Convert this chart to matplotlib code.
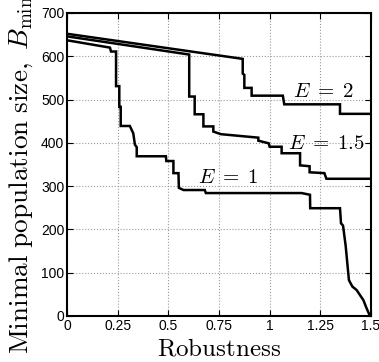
import matplotlib
matplotlib.use('Agg')
import matplotlib.pyplot as plt

# Step curves (robustness, minimal population size)
e2_x = [0, 0.867, 0.867, 0.875, 0.875, 0.911, 0.911, 1.065, 1.072, 1.347, 1.347, 1.5]
e2_y = [652, 594, 560, 557, 527, 527, 509, 509, 489, 489, 467, 467]

e15_x = [0, 0.603, 0.603, 0.630, 0.630, 0.673, 0.673, 0.722, 0.722, 0.760, 0.944, 0.944,
         0.995, 1.0, 1.059, 1.059, 1.15, 1.15, 1.197, 1.197, 1.27, 1.28, 1.5]
e15_y = [646, 604, 507, 507, 466, 466, 438, 438, 426, 420, 412, 405,
         399, 391, 391, 376, 376, 348, 346, 332, 330, 317, 317]

e1_x = [0, 0.212, 0.217, 0.242, 0.242, 0.258, 0.258, 0.265, 0.265, 0.31, 0.327, 0.335,
        0.344, 0.344, 0.488, 0.49, 0.525, 0.525, 0.55, 0.552, 0.575, 0.68, 0.685,
        1.158, 1.199, 1.2, 1.347, 1.352, 1.362, 1.375, 1.391, 1.408, 1.429, 1.446,
        1.462, 1.478, 1.495]
e1_y = [637, 620, 611, 611, 531, 531, 483, 483, 439, 439, 422, 396,
        390, 369, 369, 358, 358, 330, 330, 296, 291, 291, 284,
        284, 280, 249, 249, 214, 209, 162, 83, 68, 60, 48,
        37, 18, 0]

labels = ['$E\\;=\\;2$', '$E\\;=\\;1.5$', '$E\\;=\\;1$']
label_x = [1.265, 1.277, 0.795]
label_y = [518, 399, 319]

xticks = [0, 0.25, 0.5, 0.75, 1, 1.25, 1.5]
xtick_labels = ['0', '0.25', '0.5', '0.75', '1', '1.25', '1.5']
yticks = [0, 100, 200, 300, 400, 500, 600, 700]

plt.rcParams['mathtext.fontset'] = 'cm'
plt.rcParams['font.family'] = 'Liberation Sans'

fig = plt.figure(figsize=(3.79, 3.62), dpi=100)
ax = fig.add_axes([0.1768, 0.1271, 0.8021, 0.837])

for xs, ys in [(e2_x, e2_y), (e15_x, e15_y), (e1_x, e1_y)]:
    ax.plot(xs, ys, color='black', linewidth=1.8, solid_joinstyle='miter')

for t, x, y in zip(labels, label_x, label_y):
    ax.text(x, y, t, fontsize=15, ha='center', va='center')

ax.set_xlim(0, 1.5)
ax.set_ylim(0, 700)
ax.set_xticks(xticks)
ax.set_xticklabels(xtick_labels)
ax.set_yticks(yticks)
ax.tick_params(direction='in', length=4, width=0.8, labelsize=10, top=True, right=True, pad=2)
ax.grid(True, linestyle=':', color='#999999', linewidth=0.8)
for s in ax.spines.values():
    s.set_linewidth(1.5)

ax.set_xlabel(r'$\mathrm{Robustness}$', fontsize=18, labelpad=3)
ax.set_ylabel(r'$\mathrm{Minimal\ population\ size,}\ B_{\min}$', fontsize=19.6)
ax.yaxis.set_label_coords(-0.105, 0.467)

fig.savefig('out.png', dpi=100)
